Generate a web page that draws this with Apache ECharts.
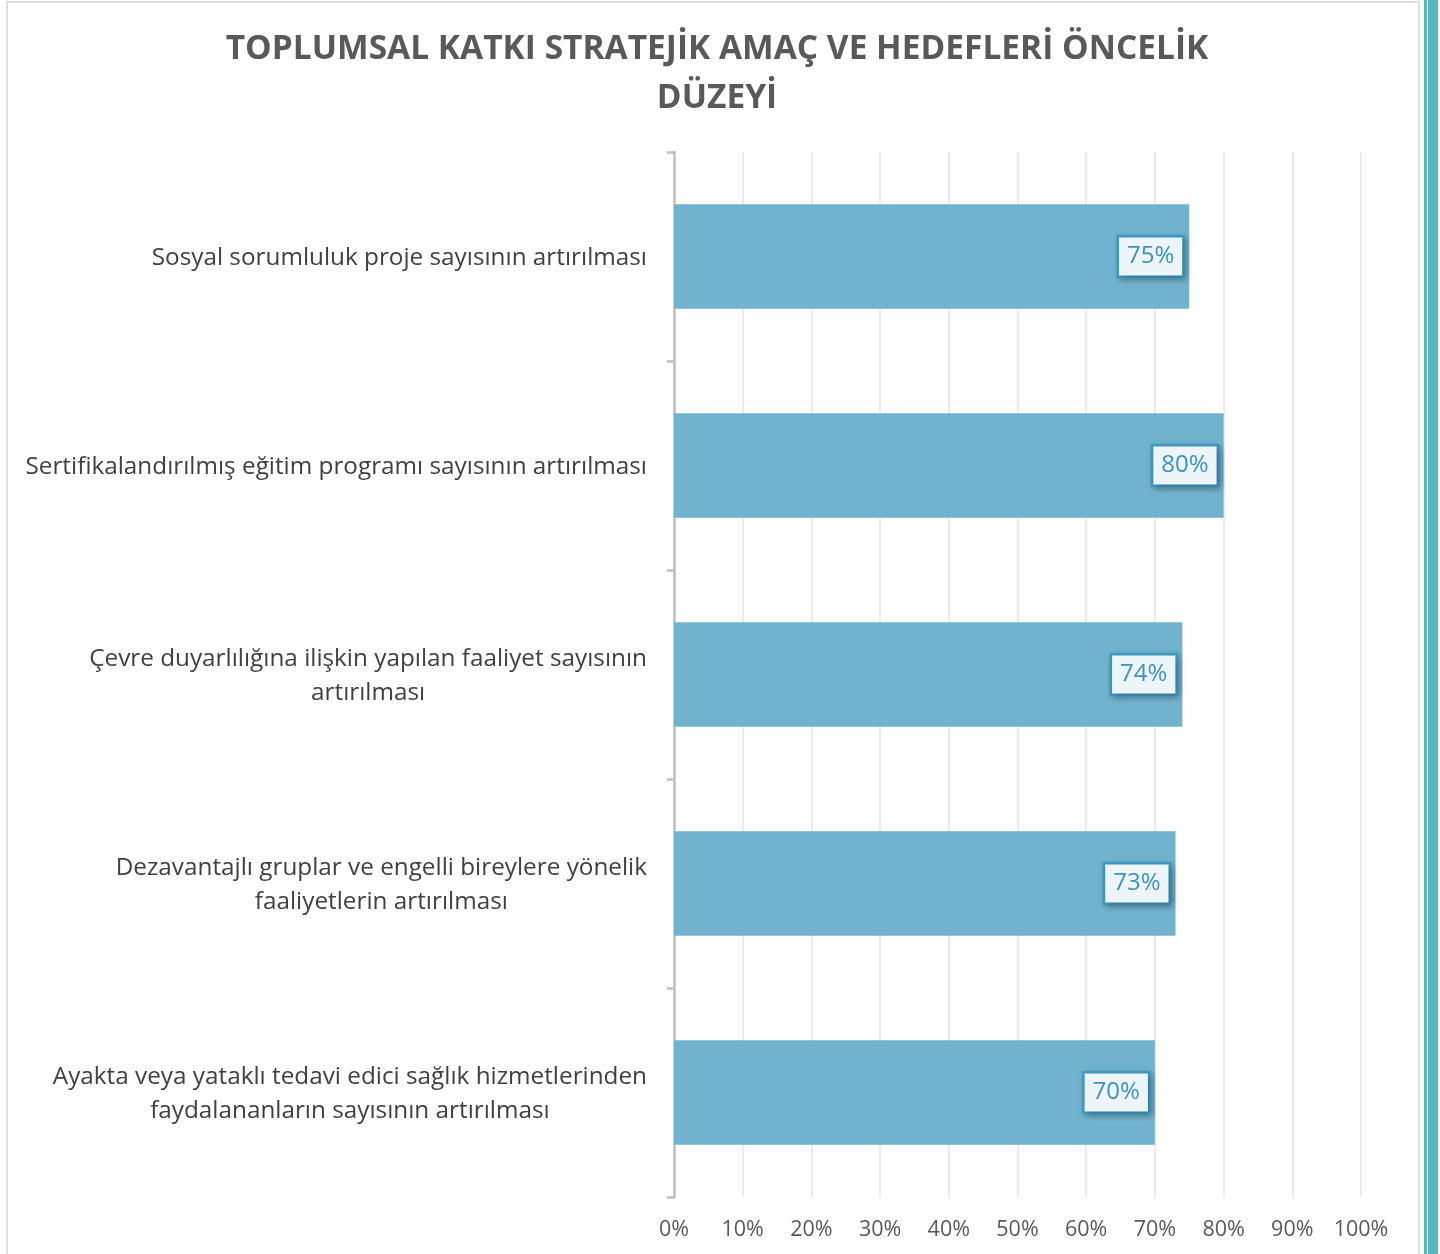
<!DOCTYPE html>
<html>
<head>
<meta charset="utf-8">
<script src="https://cdn.jsdelivr.net/npm/echarts@6/dist/echarts.min.js"></script>
<style>
    html, body { margin: 0; padding: 0; background: #fff; }
    #wrap { position: relative; width: 1440px; height: 1254px; overflow: hidden; }
    #frame { position: absolute; left: 6px; top: 1px; width: 1410px; height: 1262px; border: 2px solid #dedede; }
    #strip1 { position: absolute; left: 1424px; top: 0; width: 3px; height: 1254px; background: #56b5c1; }
    #strip2 { position: absolute; left: 1428px; top: 0; width: 10px; height: 1254px; background: #56b5c1; }
    #chart { position: absolute; left: 0; top: 0; width: 1440px; height: 1254px; }
</style>
</head>
<body>
<div id="wrap">
    <div id="frame"></div>
    <div id="strip1"></div>
    <div id="strip2"></div>
    <div id="chart"></div>
</div>
<script>
// kategoriler ve yüzdeler
const categories = [
    "Sosyal sorumluluk proje sayısının artırılması",
    "Sertifikalandırılmış eğitim programı sayısının artırılması",
    "Çevre duyarlılığına ilişkin yapılan faaliyet sayısının\nartırılması",
    "Dezavantajlı gruplar ve engelli bireylere yönelik\nfaaliyetlerin artırılması",
    "Ayakta veya yataklı tedavi edici sağlık hizmetlerinden\nfaydalananların sayısının artırılması"
];
const values = [75, 80, 74, 73, 70];
const ticks = [0, 10, 20, 30, 40, 50, 60, 70, 80, 90, 100];

const font = "'Open Sans', sans-serif";
const chart = echarts.init(document.getElementById("chart"));

chart.setOption({
    animation: false,
    title: {
        text: "TOPLUMSAL KATKI STRATEJİK AMAÇ VE HEDEFLERİ ÖNCELİK\nDÜZEYİ",
        left: 712,
        top: 20,
        textAlign: "center",
        textStyle: {
            fontFamily: font,
            fontSize: 33.5,
            fontWeight: "bold",
            color: "#595959",
            lineHeight: 49
        }
    },
    grid: {
        left: 674,
        right: 79,
        top: 152,
        bottom: 57
    },
    xAxis: {
        type: "value",
        min: ticks[0],
        max: ticks[ticks.length - 1],
        interval: 10,
        axisLine: { show: false },
        axisTick: { show: false },
        splitLine: { lineStyle: { color: "#ebebeb", width: 2 } },
        axisLabel: {
            margin: 22,
            fontFamily: font,
            fontSize: 21.5,
            color: "#595959",
            formatter: v => v + "%"
        }
    },
    yAxis: {
        type: "category",
        inverse: true,
        data: categories,
        axisLine: { show: true, lineStyle: { color: "#bfbfbf", width: 2.5 } },
        axisTick: { show: true, inside: false, length: 7, lineStyle: { color: "#bfbfbf", width: 2.5 } },
        axisLabel: {
            margin: 27,
            padding: [4, 0, 0, 0],
            formatter: v => v.split("\n").map(s => "{c|" + s + "}").join("\n"),
            rich: {
                c: {
                    align: "center",
                    fontFamily: font,
                    fontSize: 24.3,
                    lineHeight: 34,
                    color: "#404040"
                }
            }
        }
    },
    series: [{
        type: "bar",
        data: values,
        barWidth: "50%",
        itemStyle: { color: "#71b3ce" },
        label: {
            show: true,
            position: "insideRight",
            distance: 7,
            formatter: p => p.value + "%",
            fontFamily: font,
            fontSize: 24,
            color: "#3b93bf",
            backgroundColor: "#eef5f9",
            borderColor: "#3d9cc6",
            borderWidth: 2.5,
            padding: [8, 8, 6, 8],
            shadowColor: "rgba(0,0,0,0.25)",
            shadowBlur: 6,
            shadowOffsetX: 2,
            shadowOffsetY: 2
        }
    }]
});
</script>
</body>
</html>
